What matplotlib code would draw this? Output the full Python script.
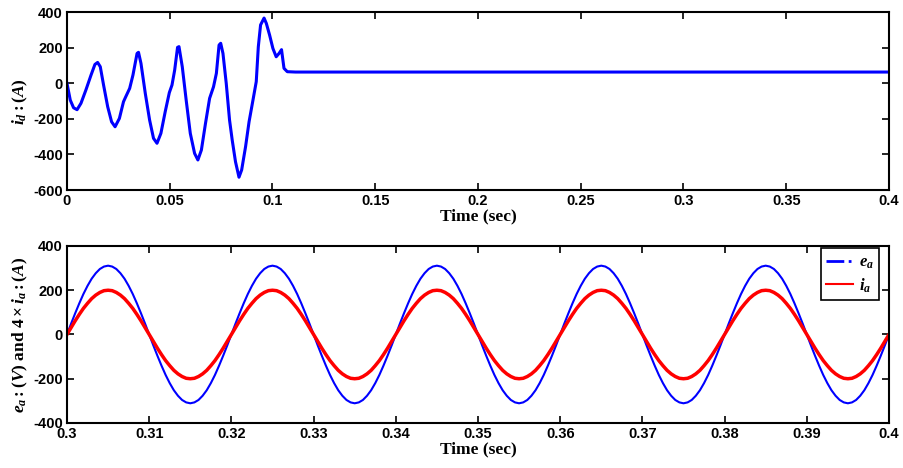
import numpy as np
import matplotlib
matplotlib.use('Agg')
import matplotlib.pyplot as plt
from matplotlib.lines import Line2D
from matplotlib.ticker import FuncFormatter
from matplotlib.font_manager import FontProperties

plt.rcParams['mathtext.fontset'] = 'custom'
plt.rcParams['mathtext.rm'] = 'Liberation Serif:bold'
plt.rcParams['mathtext.it'] = 'Liberation Serif:italic:bold'
plt.rcParams['mathtext.bf'] = 'Liberation Serif:bold'
plt.rcParams['axes.unicode_minus'] = False

# i_d transient, then steady value
t_id = [0, 0.0016, 0.0032, 0.0049, 0.0068, 0.0092, 0.0117, 0.0136, 0.0149, 0.0162,
        0.0178, 0.0198, 0.0217, 0.0234, 0.0255, 0.0275, 0.0284, 0.0305, 0.0321, 0.0341,
        0.0348, 0.036, 0.0381, 0.0402, 0.0421, 0.0438, 0.0457, 0.0478, 0.0498, 0.0511,
        0.0524, 0.0538, 0.0545, 0.0561, 0.058, 0.06, 0.0621, 0.0637, 0.0654, 0.0674,
        0.0694, 0.0713, 0.0727, 0.074, 0.0748, 0.0759, 0.0775, 0.0791, 0.0804, 0.082,
        0.0837, 0.085, 0.0869, 0.0886, 0.0905, 0.0921, 0.0931, 0.0942, 0.0959, 0.097,
        0.0986, 0.1002, 0.1018, 0.1032, 0.1044, 0.1056, 0.1072, 0.1112, 0.4]
id_val = [0, -94, -137, -148, -112, -37, 47, 107, 118, 94,
          -9, -131, -216, -244, -197, -103, -80, -28, 47, 169,
          175, 113, -56, -206, -309, -337, -281, -159, -52, -9,
          75, 203, 207, 94, -94, -281, -394, -431, -375, -225,
          -84, -19, 57, 216, 226, 169, 0, -206, -319, -441,
          -528, -487, -356, -216, -94, 10, 206, 329, 368, 338,
          272, 197, 150, 169, 190, 85, 66, 64, 64]

# one 50 Hz cycle of e_a and 4*i_a, sampled every 0.5 ms from 0.3 s
cycle_e = [0, 49, 96, 141, 183, 220, 252, 277, 296, 307,
           311, 307, 296, 277, 252, 220, 183, 141, 96, 49,
           0, -49, -96, -141, -183, -220, -252, -277, -296, -307,
           -311, -307, -296, -277, -252, -220, -183, -141, -96, -49]
cycle_i = [0, 31, 62, 91, 118, 141, 162, 178, 190, 198,
           200, 198, 190, 178, 162, 141, 118, 91, 62, 31,
           0, -31, -62, -91, -118, -141, -162, -178, -190, -198,
           -200, -198, -190, -178, -162, -141, -118, -91, -62, -31]
n_cycles = 5

t2 = 0.3 + np.arange(len(cycle_e) * n_cycles + 1) * 0.0005
ea = np.append(np.tile(cycle_e, n_cycles), 0)
ia = np.append(np.tile(cycle_i, n_cycles), 0)

tickfont = FontProperties(family='Liberation Sans', weight='bold', size=10.5)
labfont = dict(family='Liberation Serif', weight='bold', size=12.5)
fmt = FuncFormatter(lambda v, p: '%g' % round(v, 4))

fig = plt.figure(figsize=(9.04, 4.68), dpi=100)
ax1 = fig.add_axes([0.0741, 0.594, 0.9093, 0.3796])
ax2 = fig.add_axes([0.0741, 0.0962, 0.9093, 0.3782])

ax1.plot(t_id, id_val, color='#0000ff', lw=2.2)
ax1.set_xlim(0, 0.4)
ax1.set_ylim(-600, 400)
ax1.set_xticks(np.arange(0, 0.401, 0.05))
ax1.set_yticks(np.arange(-600, 401, 200))
ax1.set_xlabel('Time (sec)', labelpad=0, **labfont)
ax1.set_ylabel(r'$i_d : (A)$', labelpad=2, **labfont)

ax2.plot(t2, ea, color='#0000ff', lw=1.5)
ax2.plot(t2, ia, color='#ff0000', lw=2.5)
ax2.set_xlim(0.3, 0.4)
ax2.set_ylim(-400, 400)
ax2.set_xticks(np.arange(0.3, 0.4001, 0.01))
ax2.set_yticks(np.arange(-400, 401, 200))
ax2.set_xlabel('Time (sec)', labelpad=0, **labfont)
ax2.set_ylabel(r'$e_a : (V)$ and $4\times i_a : (A)$', labelpad=2, **labfont)

handles = [Line2D([], [], color='#0000ff', lw=2, ls='-.'),
           Line2D([], [], color='#ff0000', lw=1.5)]
leg = ax2.legend(handles, [r'$e_a$', r'$i_a$'], loc='upper right',
                 fancybox=False, edgecolor='black', framealpha=1,
                 prop={'size': 12}, handlelength=1.6, handletextpad=0.4,
                 borderpad=0.3, borderaxespad=0, labelspacing=0.3,
                 bbox_to_anchor=(0.988, 0.99))
leg.get_frame().set_linewidth(1.2)

for ax in (ax1, ax2):
    ax.xaxis.set_major_formatter(fmt)
    ax.tick_params(direction='in', top=True, right=True, length=5, width=1.2, pad=3)
    for lab in ax.get_xticklabels() + ax.get_yticklabels():
        lab.set_fontproperties(tickfont)
    for s in ax.spines.values():
        s.set_linewidth(1.5)

fig.savefig('out.png', dpi=100)
